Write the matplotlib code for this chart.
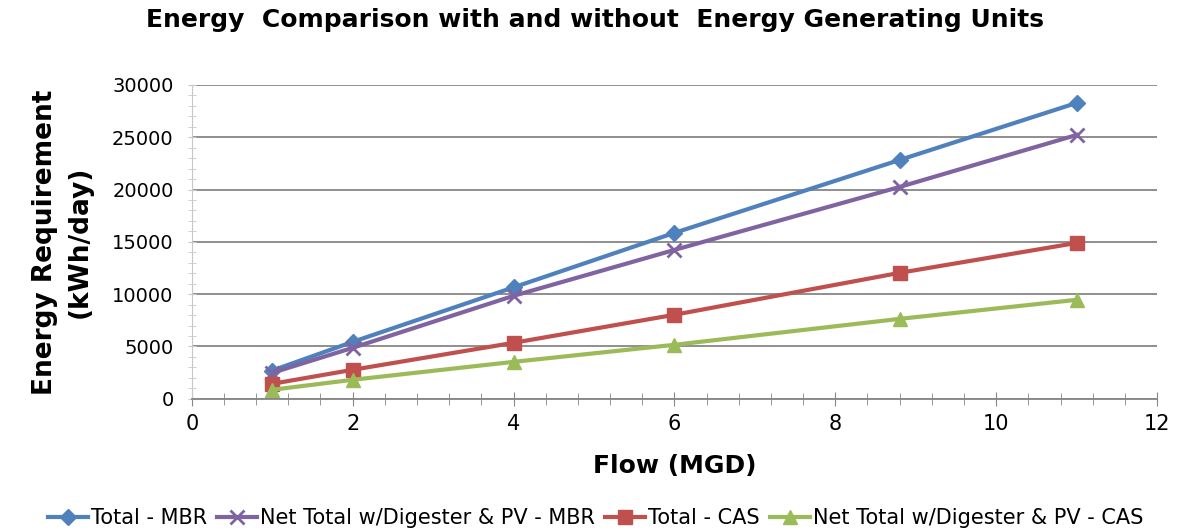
import numpy as np
import matplotlib.pyplot as plt
from matplotlib.ticker import MultipleLocator

flow = [1, 2, 4, 6, 8.8, 11]
total_mbr = [2700, 5440, 10650, 15860, 22830, 28280]
net_mbr = [2480, 4870, 9840, 14230, 20250, 25220]
total_cas = [1430, 2770, 5350, 8030, 12040, 14900]
net_cas = [860, 1815, 3530, 5160, 7640, 9460]

series = [
    (total_mbr, 'Total - MBR', '#4F81BD', 'D', 8),
    (net_mbr, 'Net Total w/Digester & PV - MBR', '#8064A2', 'x', 10),
    (total_cas, 'Total - CAS', '#C0504D', 's', 10),
    (net_cas, 'Net Total w/Digester & PV - CAS', '#9BBB59', '^', 10),
]

plt.rcParams['font.family'] = ['DejaVu Sans']

fig = plt.figure(figsize=(11.91, 5.31), dpi=100)
ax = fig.add_axes([0.161, 0.249, 0.8105, 0.591])

for ys, name, col, mk, ms in series:
    ax.plot(flow, ys, color=col, lw=3, marker=mk, markersize=ms,
            markeredgewidth=2 if mk == 'x' else 1, label=name)

ax.set_xlim(0, 12)
ax.set_ylim(0, 30000)
ax.xaxis.set_major_locator(MultipleLocator(2))
ax.xaxis.set_minor_locator(MultipleLocator(0.4))
ax.yaxis.set_major_locator(MultipleLocator(5000))
ax.yaxis.set_minor_locator(MultipleLocator(1000))
ax.grid(axis='y', which='major', color='#868686', lw=1.3)
ax.set_axisbelow(True)
for s in ['top', 'right']:
    ax.spines[s].set_visible(False)
ax.spines['left'].set_color('#c8c8c8')
ax.spines['bottom'].set_color('#868686')
ax.spines['bottom'].set_linewidth(1.3)
ax.tick_params(axis='x', which='both', direction='inout', length=10, color='#868686',
               labelsize=15, pad=6)
ax.tick_params(axis='x', which='minor', length=8)
ax.tick_params(axis='y', which='both', direction='inout', length=6, color='#c8c8c8',
               labelsize=14, pad=10)

fig.suptitle('Energy  Comparison with and without  Energy Generating Units',
             x=0.5, y=0.985, fontsize=18, fontweight='bold')
ax.set_ylabel('Energy Requirement\n(kWh/day)', fontsize=19, fontweight='bold',
              linespacing=1.45, labelpad=14)
ax.set_xlabel('Flow (MGD)', fontsize=18, fontweight='bold', labelpad=14)

fig.legend(loc='lower center', bbox_to_anchor=(0.5, -0.03), ncol=4, frameon=False,
           fontsize=15, handlelength=1.9, handletextpad=0.15, columnspacing=0.5)

fig.savefig('out.png', dpi=100)
